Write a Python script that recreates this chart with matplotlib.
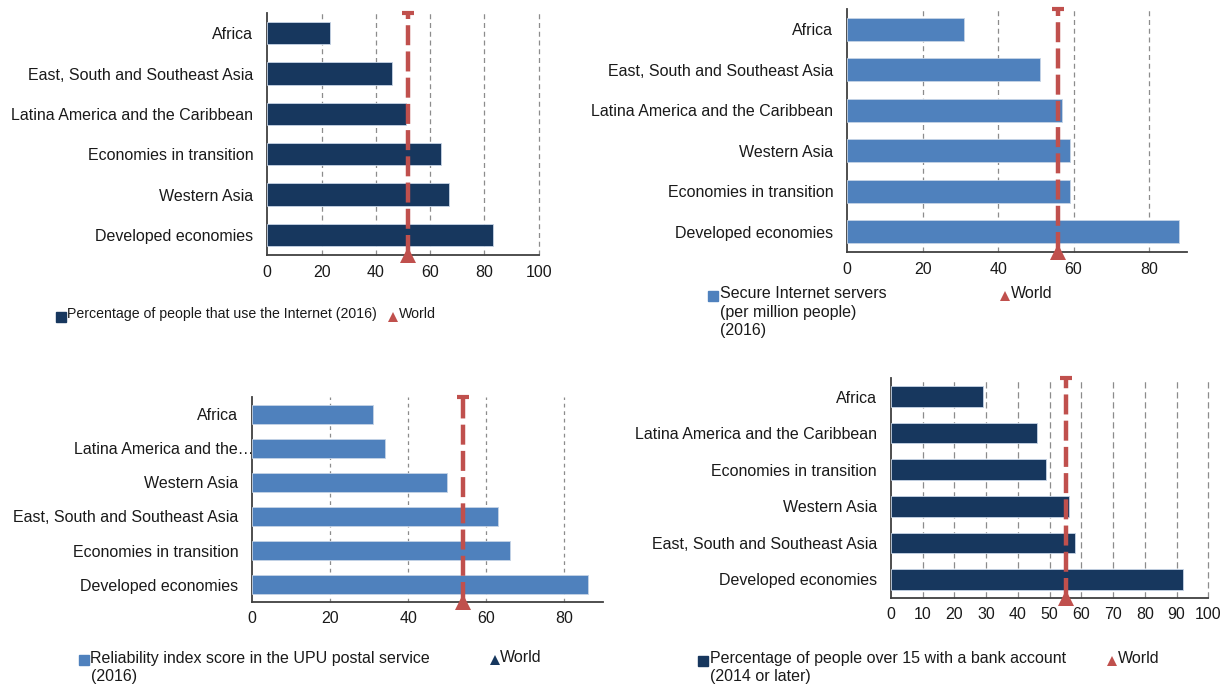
import matplotlib
matplotlib.use("Agg")
import matplotlib.pyplot as plt
from matplotlib.lines import Line2D
from matplotlib.transforms import ScaledTranslation

plt.rcParams['font.family'] = ['Liberation Sans', 'DejaVu Sans']

# ---------------- data ----------------
p1_categories = ["Africa", "East, South and Southeast Asia", "Latina America and the Caribbean",
                 "Economies in transition", "Western Asia", "Developed economies"]
p1_values = [23, 46, 51, 64, 67, 83]
p1_world = 52
p1_label = "Percentage of people that use the Internet (2016)"

p2_categories = ["Africa", "East, South and Southeast Asia", "Latina America and the Caribbean",
                 "Western Asia", "Economies in transition", "Developed economies"]
p2_values = [31, 51, 57, 59, 59, 88]
p2_world = 56
p2_label = "Secure Internet servers\n(per million people)\n(2016)"

p3_categories = ["Africa", "Latina America and the\u2026", "Western Asia",
                 "East, South and Southeast Asia", "Economies in transition", "Developed economies"]
p3_values = [31, 34, 50, 63, 66, 86]
p3_world = 54
p3_label = "Reliability index score in the UPU postal service\n(2016)"

p4_categories = ["Africa", "Latina America and the Caribbean", "Economies in transition",
                 "Western Asia", "East, South and Southeast Asia", "Developed economies"]
p4_values = [29, 46, 49, 56, 58, 92]
p4_world = 55
p4_label = "Percentage of people over 15 with a bank account\n(2014 or later)"

p1_ticks = [0, 20, 40, 60, 80, 100]
p2_ticks = [0, 20, 40, 60, 80]
p3_ticks = [0, 20, 40, 60, 80]
p4_ticks = [0, 10, 20, 30, 40, 50, 60, 70, 80, 90, 100]

NAVY = "#17375E"
LBLUE = "#4F81BD"
RED = "#C0504D"
TXT = "#1a1a1a"
FS = 11.5

W, H = 1231, 688
fig = plt.figure(figsize=(W / 100, H / 100), dpi=100)


def px_axes(left, right, top, bottom):
    return fig.add_axes([left / W, 1 - bottom / H, (right - left) / W, (bottom - top) / H])


def panel(rect, cats, vals, world, ticks, xmax, color, dash):
    ax = px_axes(*rect)
    y = list(range(len(cats)))
    ax.barh(y, vals, height=0.56, color=color, edgecolor="#C6D4E6", linewidth=0.6, zorder=3)
    ax.set_ylim(len(cats) - 0.5, -0.5)
    ax.set_xlim(0, xmax)
    ax.set_yticks(y)
    ax.set_yticklabels(cats)
    ax.set_xticks(ticks)
    ax.set_xticklabels([str(t) for t in ticks])
    ax.tick_params(axis='both', length=0, labelsize=FS, colors=TXT)
    ax.tick_params(axis='y', pad=10)
    ax.tick_params(axis='x', pad=7)
    for s in ['top', 'right']:
        ax.spines[s].set_visible(False)
    for s in ['left', 'bottom']:
        ax.spines[s].set_color('#404040')
        ax.spines[s].set_linewidth(1.3)
    for t in ticks[1:]:
        ax.axvline(t, color='#8c8c8c', linewidth=0.9, linestyle=(0, dash), zorder=1, clip_on=False)
    y0, y1 = ax.get_ylim()
    ax.plot([world, world], [y0, y1], color=RED, linewidth=3.2, linestyle=(0, (4.5, 1.4)),
            zorder=4, clip_on=False)
    ax.plot([world], [y1], marker='_', markersize=9, markeredgewidth=3, color=RED,
            zorder=5, clip_on=False)
    ax.plot([world], [y0], marker='^', markersize=11, color=RED, zorder=6, clip_on=False,
            markeredgewidth=0)
    return ax


panel((267.3, 538.7, 13, 255), p1_categories, p1_values, p1_world, p1_ticks, 100, NAVY, (4, 3))
panel((847.3, 1186.7, 9, 252), p2_categories, p2_values, p2_world, p2_ticks, 90, LBLUE, (4, 3))
ax3 = panel((252.3, 603.3, 397, 601.7), p3_categories, p3_values, p3_world, p3_ticks, 90, LBLUE, (3, 3))
panel((891, 1208.3, 378.3, 597.7), p4_categories, p4_values, p4_world, p4_ticks, 100, NAVY, (5, 3))

# truncated label sits further right (as in the original)
for lab in ax3.get_yticklabels():
    if lab.get_text().endswith("\u2026"):
        lab.set_transform(lab.get_transform() + ScaledTranslation(0.15, 0, fig.dpi_scale_trans))


def legend(sq_x, sq_y, color, text, tx, tri_x, tri_color, wx, fs=FS):
    fig.add_artist(Line2D([sq_x / W], [1 - sq_y / H], marker='s', markersize=6.5, color=color,
                          linestyle='none', transform=fig.transFigure))
    fig.text(tx / W, 1 - (sq_y - 9.5) / H, text, ha='left', va='top', fontsize=fs,
             color=TXT, linespacing=1.25)
    fig.add_artist(Line2D([tri_x / W], [1 - sq_y / H], marker='^', markersize=6.5, color=tri_color,
                          linestyle='none', markeredgewidth=0, transform=fig.transFigure))
    fig.text(wx / W, 1 - (sq_y - 9.5) / H, "World", ha='left', va='top', fontsize=fs, color=TXT)


legend(61, 316.5, NAVY, p1_label, 67, 393, RED, 399, fs=10.2)
legend(713, 296, LBLUE, p2_label, 720, 1004.5, RED, 1010.5)
legend(84, 660, LBLUE, p3_label, 90.5, 495, NAVY, 500)
legend(702.5, 660.5, NAVY, p4_label, 710, 1112, RED, 1118)

fig.savefig("out.png", dpi=100)
